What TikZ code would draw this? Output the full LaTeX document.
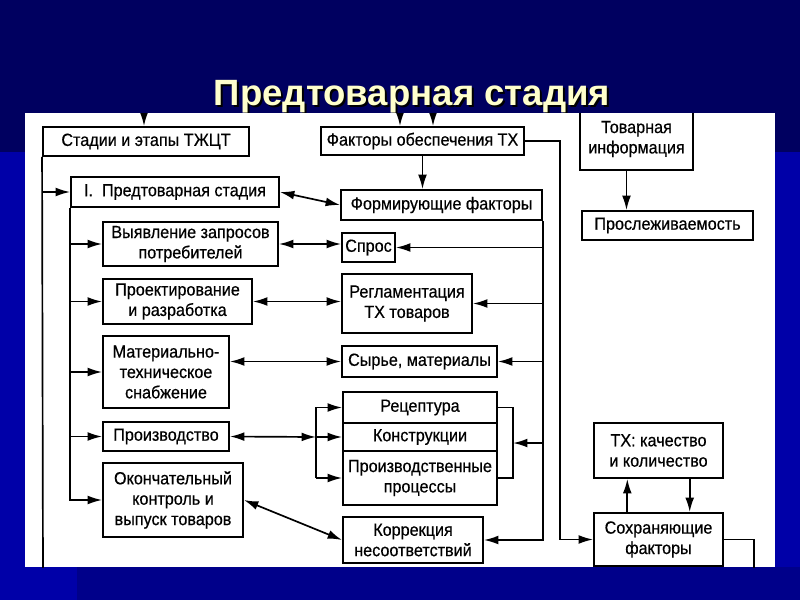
\documentclass[tikz,border=0pt]{standalone}
\usepackage{fontspec}
\setmainfont{Liberation Sans}
\newfontfamily\scanfont[FakeBold=0.5, FakeStretch=0.92]{Liberation Sans}
\usetikzlibrary{arrows.meta}
\definecolor{navy}{HTML}{000060}
\definecolor{slideblue}{HTML}{0000A8}
\definecolor{stripblue}{HTML}{00008A}
\definecolor{titlecream}{HTML}{FFFFCC}

\begin{document}
\begin{tikzpicture}
    [
        x=0.025cm, y=-0.025cm,
        box/.style={rectangle, draw, line width=1.3pt, align=center, inner sep=1pt,
            font=\scanfont\fontsize{12.5}{14.5}\selectfont},
        title/.style={anchor=base, font=\bfseries\fontsize{26}{30}\selectfont},
        arr/.style={line width=1.2pt, -{Latex[length=3.6mm, width=2.2mm]}},
        darr/.style={line width=1.2pt,
            {Latex[length=3.6mm, width=2.2mm]}-{Latex[length=3.6mm, width=2.2mm]}},
        link/.style={line width=1.2pt},
    ]
    \useasboundingbox (0,0) rectangle (800,600);
    \fill[navy] (0,0) rectangle (800,600);
    \fill[slideblue] (0,152) rectangle (800,600);
    \fill[stripblue] (77,567) rectangle (800,600);

    \node (shadow) at (414,107) [title, text=black] {Предтоварная стадия};
    \node (head) at (412,105) [title, text=titlecream] {Предтоварная стадия};

    \begin{scope}
    \clip (25,113) rectangle (775,567);
    \fill[white] (25,113) rectangle (775,567);

    \node (stages) at (146,141.5) [box, minimum width=5.15cm, minimum height=0.725cm] {Стадии и этапы ТЖЦТ};
    \node (factors) at (422.5,141) [box, minimum width=5.075cm, minimum height=0.7cm] {Факторы обеспечения ТХ};
    \node (info) at (636.5,139) [box, minimum width=2.825cm, minimum height=1.55cm] {Товарная\\информация};
    \node (trace) at (667.5,225.5) [box, minimum width=4.275cm, minimum height=0.725cm] {Прослеживаемость};

    \node (st1) at (175,192) [box, minimum width=5.2cm, minimum height=0.75cm] {I.\ \ Предтоварная стадия};
    \node (needs) at (190.5,244) [box, minimum width=4.375cm, minimum height=1.1cm] {Выявление запросов\\потребителей};
    \node (design) at (177.5,301.5) [box, minimum width=3.725cm, minimum height=1.125cm] {Проектирование\\и разработка};
    \node (supply) at (166,372) [box, minimum width=3.15cm, minimum height=1.8cm] {Материально-\\техническое\\снабжение};
    \node (prod) at (166,436.5) [box, minimum width=3.15cm, minimum height=0.725cm] {Производство};
    \node (final) at (173,500) [box, minimum width=3.5cm, minimum height=1.85cm] {Окончательный\\контроль и\\выпуск товаров};

    \node (forming) at (441.5,205) [box, minimum width=5.025cm, minimum height=0.75cm] {Формирующие факторы};
    \node (demand) at (368.5,247.5) [box, minimum width=1.325cm, minimum height=0.725cm] {Спрос};
    \node (regul) at (407,303.5) [box, minimum width=3.25cm, minimum height=1.475cm] {Регламентация\\ТХ товаров};
    \node (raw) at (419.5,361.5) [box, minimum width=3.875cm, minimum height=0.775cm] {Сырье, материалы};
    \node (recipe) at (420,407.5) [box, minimum width=3.85cm, minimum height=0.775cm] {Рецептура};
    \node (constr) at (420,437) [box, minimum width=3.85cm, minimum height=0.7cm] {Конструкции};
    \node (procs) at (420,478) [box, minimum width=3.85cm, minimum height=1.35cm] {Производственные\\процессы};
    \node (correct) at (413,540) [box, minimum width=3.5cm, minimum height=1.15cm] {Коррекция\\несоответствий};

    \node (quality) at (658.5,450.5) [box, minimum width=3.225cm, minimum height=1.375cm] {ТХ: качество\\и количество};
    \node (keeping) at (658.5,539.5) [box, minimum width=3.225cm, minimum height=1.325cm] {Сохраняющие\\факторы};

    \coordinate (topA) at (144,100);
    \coordinate (topB) at (400,100);
    \coordinate (topC) at (433,100);
    \coordinate (leftend) at (43,580);
    \coordinate (lbr) at (316,437);
    \coordinate (rbr) at (513,443);
    \coordinate (fk) at (560,300);
    \coordinate (kout) at (754,580);

    \draw[arr] (topA) -- (topA |- stages.north);
    \draw[arr] (topB) -- (topB |- factors.north);
    \draw[arr] (topC) -- (topC |- factors.north);

    \draw[link] (stages.south west) -- (leftend);
    \draw[arr] (stages.south west |- st1.west) -- (st1.west);
    \draw[arr] (st1.south west) |- (final.west);
    \foreach \n in {needs, design, supply, prod}
        \draw[arr] (st1.south west |- \n.west) -- (\n.west);

    \draw[darr] (st1.east) -- (forming.west);
    \draw[darr] (needs.east) -- (needs.east -| demand.west);
    \draw[darr] (design.east) -- (design.east -| regul.west);
    \draw[darr] (raw.west -| supply.east) -- (raw.west);
    \draw[darr] (final.east) -- (correct.west);

    \draw[arr] (lbr |- procs.west) |- (recipe.west);
    \draw[arr] (lbr |- procs.west) -- (procs.west);
    \draw[darr] (prod.east) -- (lbr);
    \draw[arr] (lbr) -- (constr.west);

    \draw[arr] (forming.south east) |- (correct.east);
    \foreach \n in {demand, regul, raw}
        \draw[arr] (forming.south east |- \n.east) -- (\n.east);
    \draw[arr] (forming.south east |- rbr) -- (rbr);
    \draw[link] (recipe.east) -| (rbr) |- (procs.east);

    \draw[arr] (factors.south) -- (factors.south |- forming.north);
    \draw[arr] (factors.east) -| (fk) |- (keeping.west);
    \draw[arr] ([xshift=-0.25cm]info.south) -- ([xshift=-0.25cm]info.south |- trace.north);
    \draw[arr] ([xshift=-0.78cm]keeping.north) -- ([xshift=-0.78cm]quality.south);
    \draw[arr] ([xshift=0.78cm]quality.south) -- ([xshift=0.78cm]keeping.north);
    \draw[link] (keeping.east) -| (kout);
    \end{scope}
\end{tikzpicture}
\end{document}
